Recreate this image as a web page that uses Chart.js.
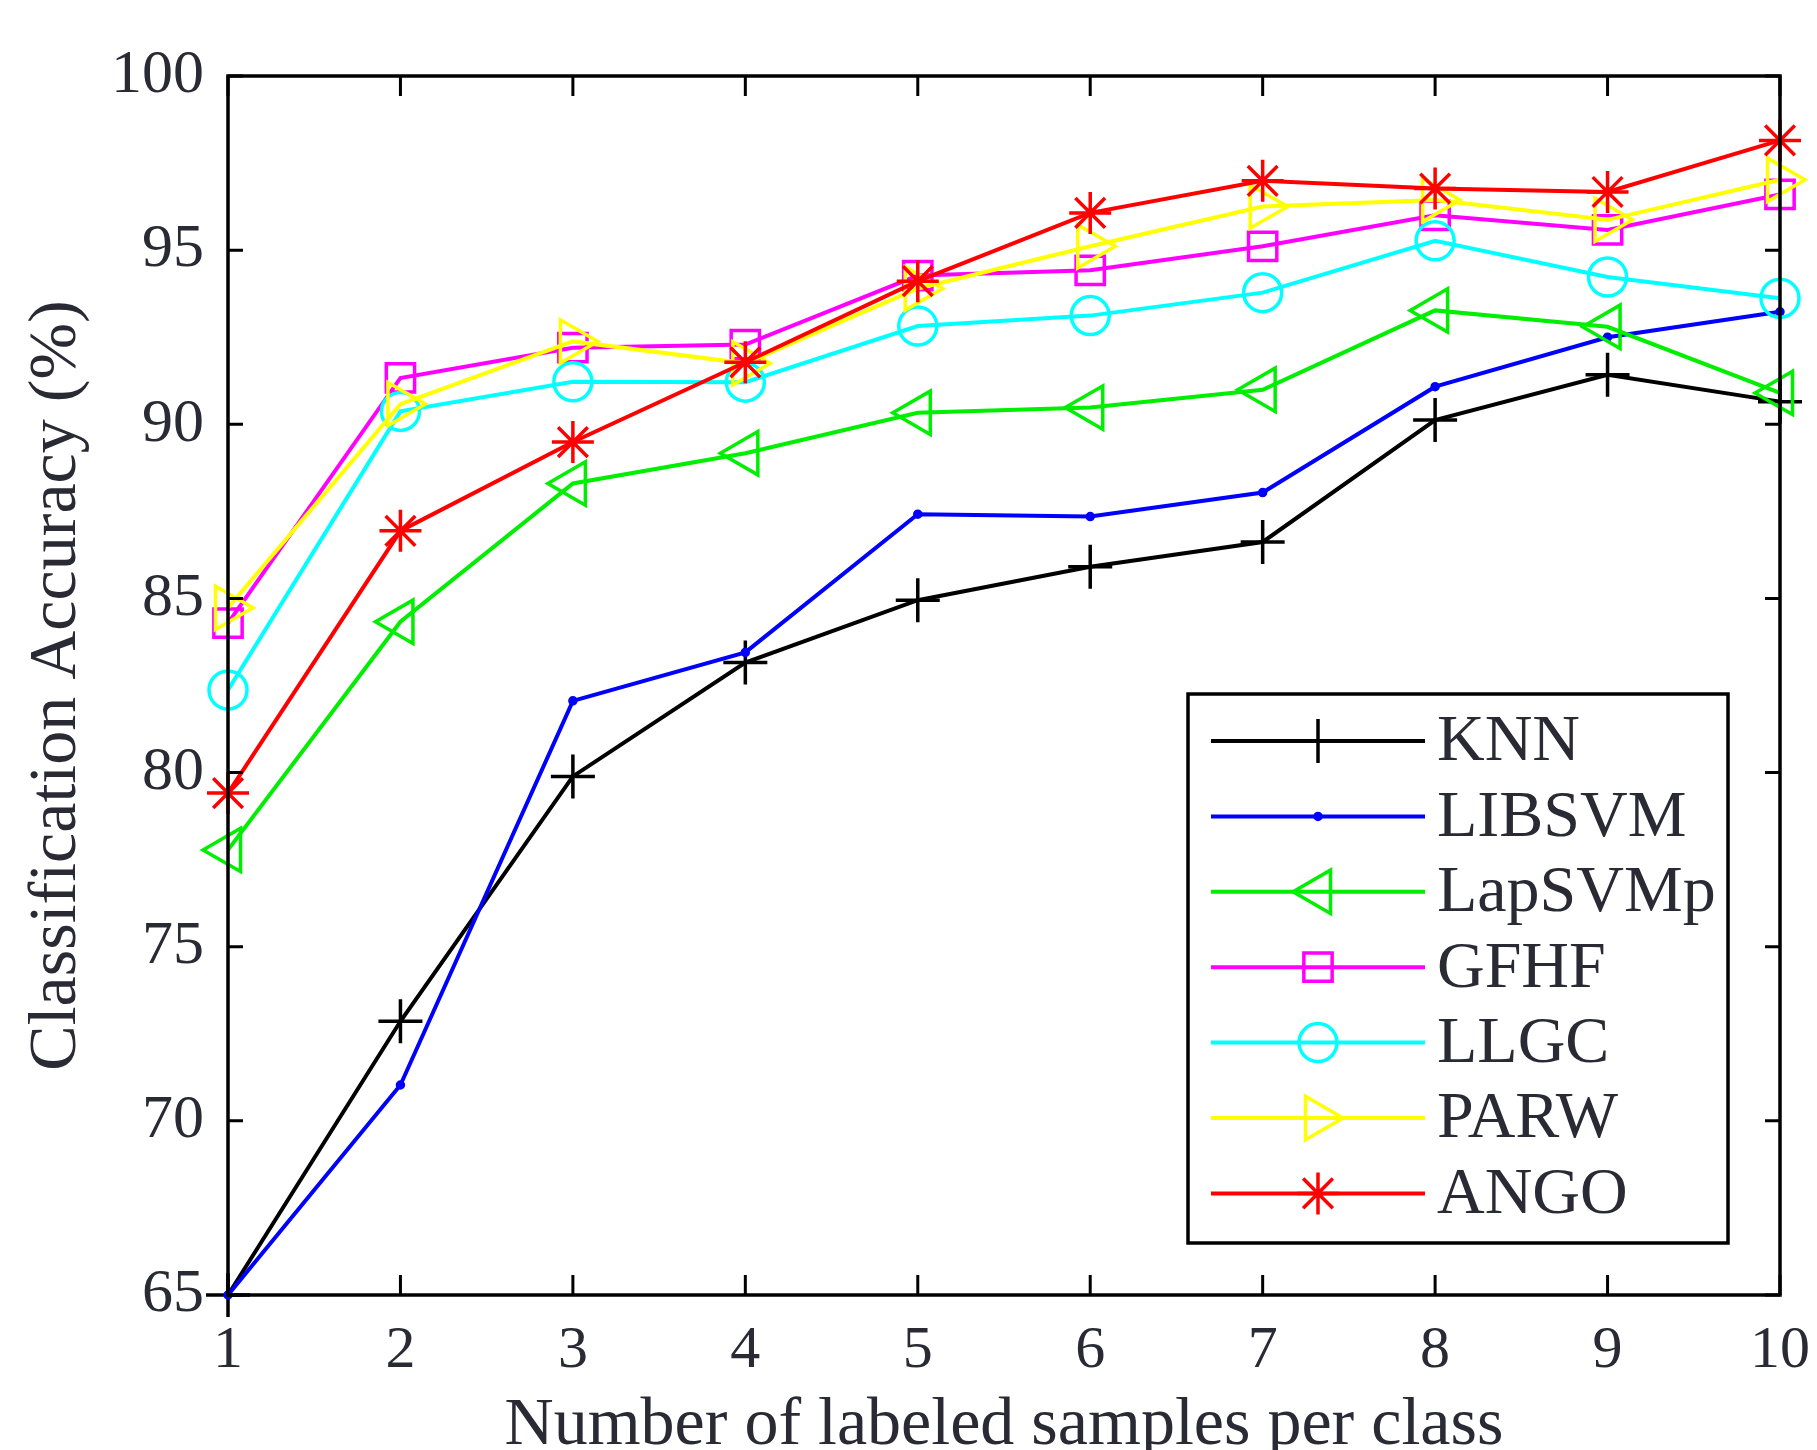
<!DOCTYPE html>
<html>
<head>
<meta charset="utf-8">
<script src="https://cdn.jsdelivr.net/npm/chart.js@4.4.1/dist/chart.umd.min.js"></script>
<style>
  html, body { margin: 0; padding: 0; background: #fff; }
  #wrap { width: 1817px; height: 1450px; }
</style>
</head>
<body>
<div id="wrap"><canvas id="acc-chart" width="1817" height="1450"></canvas></div>
<script>
// values
const samplesPerClass = ['1', '2', '3', '4', '5', '6', '7', '8', '9', '10'];
const methods = ['KNN', 'LIBSVM', 'LapSVMp', 'GFHF', 'LLGC', 'PARW', 'ANGO'];
const knnAcc     = [65.0, 72.86, 79.89, 83.16, 84.95, 85.91, 86.62, 90.12, 91.42, 90.65];
const libsvmAcc  = [65.0, 71.03, 82.06, 83.45, 87.42, 87.35, 88.04, 91.08, 92.50, 93.23];
const lapsvmpAcc = [77.78, 84.33, 88.30, 89.17, 90.33, 90.48, 90.99, 93.27, 92.80, 90.90];
const gfhfAcc    = [84.29, 91.33, 92.20, 92.29, 94.27, 94.42, 95.11, 96.00, 95.58, 96.60];
const llgcAcc    = [82.37, 90.37, 91.22, 91.21, 92.82, 93.12, 93.78, 95.27, 94.23, 93.62];
const parwAcc    = [84.73, 90.58, 92.38, 91.75, 93.90, 95.11, 96.25, 96.44, 95.87, 97.02];
const angoAcc    = [79.41, 86.94, 89.49, 91.78, 94.11, 96.07, 96.99, 96.77, 96.67, 98.15];
const yTicks = [65, 70, 75, 80, 85, 90, 95, 100];

const seriesValues = [knnAcc, libsvmAcc, lapsvmpAcc, gfhfAcc, llgcAcc, parwAcc, angoAcc];

// matlab-ish styling
const lineColors   = ['#000000', '#0000ff', '#00ee00', '#ff00ff', '#00ffff', '#ffff00', '#ff0000'];
const markerShapes = ['cross', 'circle', 'triangle', 'rect', 'circle', 'triangle', 'star'];
const markerRadius = [22, 3, 25, 20, 19, 25, 21];
const markerTurn   = [0, 0, -90, 0, 0, 90, 0];
const textColor = '#2a2a35';
const serif = "'Liberation Serif', 'DejaVu Serif', serif";

const datasets = methods.map((name, i) => ({
  label: name,
  data: seriesValues[i],
  borderColor: lineColors[i],
  backgroundColor: i === 1 ? lineColors[i] : 'rgba(0,0,0,0)',
  borderWidth: 4,
  pointStyle: markerShapes[i],
  pointRadius: markerRadius[i],
  pointRotation: markerTurn[i],
  pointBorderWidth: 3.5,
  pointBorderColor: lineColors[i],
  pointBackgroundColor: i === 1 ? lineColors[i] : 'rgba(0,0,0,0)',
  tension: 0,
  clip: false,
  order: methods.length - i
}));

// box round the axes with inward ticks on all sides
const framePlugin = {
  id: 'frame',
  afterDatasetsDraw(chart) {
    const { ctx, chartArea: a, scales } = chart;
    ctx.save();
    ctx.strokeStyle = '#000';
    ctx.lineWidth = 3;
    ctx.beginPath();
    samplesPerClass.forEach((c, i) => {
      const px = scales.x.getPixelForValue(i);
      ctx.moveTo(px, a.bottom); ctx.lineTo(px, a.bottom - 20);
      ctx.moveTo(px, a.top); ctx.lineTo(px, a.top + 20);
    });
    yTicks.forEach(v => {
      const py = scales.y.getPixelForValue(v);
      ctx.moveTo(a.left, py); ctx.lineTo(a.left + 15, py);
      ctx.moveTo(a.right, py); ctx.lineTo(a.right - 15, py);
    });
    ctx.stroke();
    ctx.lineWidth = 3.5;
    ctx.strokeRect(a.left, a.top, a.right - a.left, a.bottom - a.top);
    ctx.restore();
  }
};

// legend box inside the plot, line + marker samples
const legendPlugin = {
  id: 'boxLegend',
  afterDraw(chart) {
    const { ctx, chartArea: a } = chart;
    const boxRight = a.right - 52, boxBottom = a.bottom - 52;
    const boxLeft = boxRight - 540, boxTop = boxBottom - 549;
    ctx.save();
    ctx.fillStyle = '#fff';
    ctx.fillRect(boxLeft, boxTop, boxRight - boxLeft, boxBottom - boxTop);
    ctx.strokeStyle = '#000';
    ctx.lineWidth = 3.5;
    ctx.strokeRect(boxLeft, boxTop, boxRight - boxLeft, boxBottom - boxTop);
    ctx.font = '66px ' + serif;
    ctx.textBaseline = 'middle';
    ctx.textAlign = 'left';
    chart.data.datasets.forEach((ds, i) => {
      const yRow = boxTop + 47 + i * 75.4;
      const x0 = boxLeft + 23, x1 = boxLeft + 237, xm = (x0 + x1) / 2;
      ctx.strokeStyle = ds.borderColor;
      ctx.lineWidth = 4;
      ctx.beginPath();
      ctx.moveTo(x0, yRow); ctx.lineTo(x1, yRow);
      ctx.stroke();
      ctx.fillStyle = ds.pointBackgroundColor;
      ctx.lineWidth = 3.5;
      Chart.helpers.drawPoint(ctx, {
        pointStyle: ds.pointStyle,
        radius: ds.pointRadius,
        rotation: ds.pointRotation,
        borderWidth: 3.5
      }, xm, yRow);
      ctx.fillStyle = textColor;
      ctx.fillText(ds.label, boxLeft + 249, yRow + 2);
    });
    ctx.restore();
  }
};

new Chart(document.getElementById('acc-chart'), {
  type: 'line',
  data: { labels: samplesPerClass, datasets: datasets },
  plugins: [framePlugin, legendPlugin],
  options: {
    responsive: false,
    animation: false,
    layout: { padding: { left: 0, right: 37, top: 76, bottom: 0 } },
    plugins: {
      legend: { display: false },
      tooltip: { enabled: false }
    },
    scales: {
      x: {
        type: 'category',
        offset: false,
        grid: { display: false, drawTicks: false },
        border: { display: false },
        ticks: { color: textColor, font: { family: serif, size: 60 }, padding: 20, maxRotation: 0, autoSkip: false },
        title: {
          display: true,
          text: 'Number of labeled samples per class',
          color: textColor,
          font: { family: serif, size: 68, lineHeight: 0.7 },
          padding: 0
        },
        afterFit: s => { s.height = 155; s.paddingLeft = 0; s.paddingRight = 0; }
      },
      y: {
        min: 65,
        max: 100,
        grid: { display: false, drawTicks: false },
        border: { display: false },
        ticks: { stepSize: 5, color: textColor, font: { family: serif, size: 62 }, padding: 24 },
        title: {
          display: true,
          text: 'Classification Accuracy (%)',
          color: textColor,
          font: { family: serif, size: 68 },
          padding: { top: 16, bottom: 0 }
        },
        afterFit: s => { s.width = 228; }
      }
    }
  }
});
</script>
</body>
</html>
